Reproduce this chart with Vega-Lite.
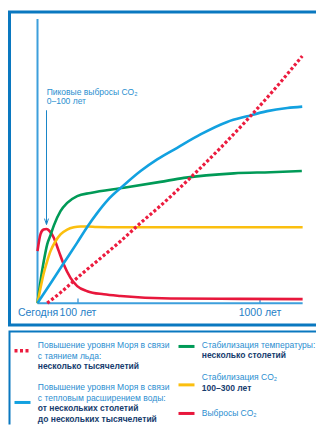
{
  "$schema": "https://vega.github.io/schema/vega-lite/v6.json",
  "padding": {"left": 7.5, "top": 10, "right": 0, "bottom": 0},
  "background": "white",
  "spacing": 3.5,
  "config": {"font": "Liberation Sans"},
  "datasets": {
    "curves": [
      {"series": "Выбросы CO₂", "year": 0, "level": 18.3},
      {"series": "Выбросы CO₂", "year": 7.5, "level": 24.3},
      {"series": "Выбросы CO₂", "year": 15, "level": 25.9},
      {"series": "Выбросы CO₂", "year": 22.5, "level": 26.1},
      {"series": "Выбросы CO₂", "year": 30, "level": 25.4},
      {"series": "Выбросы CO₂", "year": 40.75, "level": 23.0},
      {"series": "Выбросы CO₂", "year": 53.25, "level": 18.3},
      {"series": "Выбросы CO₂", "year": 65.75, "level": 13.6},
      {"series": "Выбросы CO₂", "year": 82.5, "level": 8.9},
      {"series": "Выбросы CO₂", "year": 99.25, "level": 6.0},
      {"series": "Выбросы CO₂", "year": 148, "level": 4.2},
      {"series": "Выбросы CO₂", "year": 230, "level": 3.1},
      {"series": "Выбросы CO₂", "year": 313, "level": 2.5},
      {"series": "Выбросы CO₂", "year": 560, "level": 1.65},
      {"series": "Выбросы CO₂", "year": 906, "level": 1.5},
      {"series": "Выбросы CO₂", "year": 1213, "level": 1.4},
      {"series": "Температура", "year": 0, "level": 0},
      {"series": "Температура", "year": 7.5, "level": 7.75},
      {"series": "Температура", "year": 15.75, "level": 14.8},
      {"series": "Температура", "year": 24.25, "level": 20.7},
      {"series": "Температура", "year": 32.5, "level": 23.9},
      {"series": "Температура", "year": 40.75, "level": 27.3},
      {"series": "Температура", "year": 57.5, "level": 32.4},
      {"series": "Температура", "year": 74.25, "level": 35.3},
      {"series": "Температура", "year": 99.25, "level": 37.7},
      {"series": "Температура", "year": 164, "level": 38.8},
      {"series": "Температура", "year": 329, "level": 40.6},
      {"series": "Температура", "year": 510, "level": 42.7},
      {"series": "Температура", "year": 626, "level": 44.1},
      {"series": "Температура", "year": 873, "level": 45.7},
      {"series": "Температура", "year": 1054, "level": 46.1},
      {"series": "Температура", "year": 1209, "level": 46.5},
      {"series": "CO₂", "year": 0, "level": 0},
      {"series": "CO₂", "year": 7.5, "level": 5.3},
      {"series": "CO₂", "year": 15.75, "level": 10.6},
      {"series": "CO₂", "year": 24.25, "level": 14.8},
      {"series": "CO₂", "year": 32.5, "level": 18.3},
      {"series": "CO₂", "year": 45, "level": 21.8},
      {"series": "CO₂", "year": 57.5, "level": 24.2},
      {"series": "CO₂", "year": 74.25, "level": 25.9},
      {"series": "CO₂", "year": 90.75, "level": 26.7},
      {"series": "CO₂", "year": 115, "level": 27.0},
      {"series": "CO₂", "year": 154, "level": 27.0},
      {"series": "CO₂", "year": 194, "level": 26.8},
      {"series": "CO₂", "year": 313, "level": 26.7},
      {"series": "CO₂", "year": 1213, "level": 26.7},
      {"series": "Тепловое расширение", "year": 0, "level": 0},
      {"series": "Тепловое расширение", "year": 32.5, "level": 6.9},
      {"series": "Тепловое расширение", "year": 65.75, "level": 14.1},
      {"series": "Тепловое расширение", "year": 99.25, "level": 21.3},
      {"series": "Тепловое расширение", "year": 148, "level": 26.8},
      {"series": "Тепловое расширение", "year": 197, "level": 31.7},
      {"series": "Тепловое расширение", "year": 247, "level": 36.1},
      {"series": "Тепловое расширение", "year": 329, "level": 41.5},
      {"series": "Тепловое расширение", "year": 412, "level": 46.5},
      {"series": "Тепловое расширение", "year": 494, "level": 50.6},
      {"series": "Тепловое расширение", "year": 593, "level": 54.7},
      {"series": "Тепловое расширение", "year": 708, "level": 59.4},
      {"series": "Тепловое расширение", "year": 840, "level": 63.8},
      {"series": "Тепловое расширение", "year": 939, "level": 65.8},
      {"series": "Тепловое расширение", "year": 1038, "level": 67.6},
      {"series": "Тепловое расширение", "year": 1137, "level": 68.7},
      {"series": "Тепловое расширение", "year": 1211, "level": 69.2},
      {"series": "Таяние льда", "year": 24.25, "level": 0},
      {"series": "Таяние льда", "year": 57.5, "level": 3.7},
      {"series": "Таяние льда", "year": 114.8, "level": 9.9},
      {"series": "Таяние льда", "year": 213.7, "level": 15.8},
      {"series": "Таяние льда", "year": 312.6, "level": 21.8},
      {"series": "Таяние льда", "year": 411.5, "level": 28.2},
      {"series": "Таяние льда", "year": 510.4, "level": 34.3},
      {"series": "Таяние льда", "year": 675, "level": 45.3},
      {"series": "Таяние льда", "year": 955, "level": 65.8},
      {"series": "Таяние льда", "year": 1104, "level": 77.8},
      {"series": "Таяние льда", "year": 1211, "level": 87.0}
    ],
    "legend": [
      {"col": "left", "row": 1.5, "kind": "symbol", "series": "Таяние льда"},
      {"col": "left", "row": 6.45, "kind": "symbol", "series": "Тепловое расширение"},
      {"col": "right", "row": 1.1, "kind": "symbol", "series": "Температура"},
      {"col": "right", "row": 4.77, "kind": "symbol", "series": "CO₂"},
      {"col": "right", "row": 7.5, "kind": "symbol", "series": "Выбросы CO₂"},
      {"col": "left", "row": 1, "kind": "label", "text": "Повышение уровня Моря в связи"},
      {"col": "left", "row": 2, "kind": "label", "text": "с таянием льда:"},
      {"col": "left", "row": 3, "kind": "value", "text": "несколько тысячелетий"},
      {"col": "left", "row": 5, "kind": "label", "text": "Повышение уровня Моря в связи"},
      {"col": "left", "row": 6, "kind": "label", "text": "с тепловым расширением воды:"},
      {"col": "left", "row": 7, "kind": "value", "text": "от нескольких столетий"},
      {"col": "left", "row": 8, "kind": "value", "text": "до нескольких тысячелетий"},
      {"col": "right", "row": 1, "kind": "label", "text": "Стабилизация температуры:"},
      {"col": "right", "row": 1.95, "kind": "value", "text": "несколько столетий"},
      {"col": "right", "row": 4, "kind": "label", "text": "Стабилизация CO₂"},
      {"col": "right", "row": 5.1, "kind": "value", "text": "100–300 лет"},
      {"col": "right", "row": 7.5, "kind": "label", "text": "Выбросы CO₂"}
    ]
  },
  "vconcat": [
    {
      "width": 306.5,
      "height": 313,
      "view": {"stroke": "#0a78c0", "strokeWidth": 3, "strokeDash": [306.5, 313, 619.5]},
      "encoding": {
        "x": {
          "field": "year", "type": "quantitative",
          "scale": {"domain": [-70, 0, 100, 1000, 1279], "range": [0, 28, 68, 250, 306.5], "nice": false, "zero": false},
          "axis": {
            "orient": "bottom", "offset": -22, "domain": false, "grid": false, "title": null,
            "values": [0, 100, 1000],
            "labelExpr": "datum.value == 0 ? 'Сегодня' : datum.value + ' лет'",
            "tickSize": -5, "tickColor": "#2a8ad0", "tickWidth": 1.2,
            "labelColor": "#1f80c6", "labelFontSize": 10.5, "labelPadding": 9,
            "labelFlush": false, "labelOverlap": false
          }
        },
        "y": {
          "field": "level", "type": "quantitative",
          "scale": {"domain": [-7.7, 102.5], "nice": false, "zero": false},
          "axis": null
        }
      },
      "layer": [
        {
          "data": {"values": [
            {"year": 0, "level": 0, "year2": 1213, "level2": 0},
            {"year": 0, "level": 0, "year2": 0, "level2": 100}
          ]},
          "mark": {"type": "rule", "color": "#3d9fdc", "strokeWidth": 2},
          "encoding": {"x2": {"field": "year2"}, "y2": {"field": "level2"}}
        },
        {
          "data": {"name": "curves"},
          "transform": [{"filter": "datum.series != 'Таяние льда'"}],
          "mark": {"type": "line", "interpolate": "monotone", "strokeWidth": 2.6},
          "encoding": {
            "color": {
              "field": "series", "type": "nominal",
              "scale": {
                "domain": ["Таяние льда", "Тепловое расширение", "Температура", "CO₂", "Выбросы CO₂"],
                "range": ["#ec1c3f", "#12a1e0", "#009a57", "#fbbf0f", "#e8173c"]
              },
              "legend": null
            }
          }
        },
        {
          "data": {"name": "curves"},
          "transform": [{"filter": "datum.series == 'Таяние льда'"}],
          "mark": {"type": "line", "interpolate": "monotone", "strokeWidth": 3.2, "strokeDash": [3, 2.2], "color": "#ec1c3f"},
          "encoding": {}
        },
        {
          "data": {"values": [
            {"text": "Пиковые выбросы CO₂", "year": 23, "level": 73.2},
            {"text": "0–100 лет", "year": 23, "level": 70.1}
          ]},
          "mark": {"type": "text", "align": "left", "baseline": "alphabetic", "fontSize": 8.5, "color": "#2a8fd0"},
          "encoding": {"text": {"field": "text"}}
        },
        {
          "data": {"values": [
            {"year": 22.5, "level": 67.9, "year2": 22.5, "level2": 27.8}
          ]},
          "mark": {"type": "rule", "color": "#1a86c8", "strokeWidth": 1},
          "encoding": {"x2": {"field": "year2"}, "y2": {"field": "level2"}}
        },
        {
          "data": {"values": [{"year": 22.5, "level": 28.7}]},
          "mark": {"type": "point", "shape": "M-0.67,-1L0,1L0.67,-1", "size": 36, "filled": false, "stroke": "#1a86c8", "strokeWidth": 1, "opacity": 1}
        }
      ]
    },
    {
      "width": 306.5,
      "height": 93,
      "view": {"stroke": "#0a78c0", "strokeWidth": 2, "strokeDash": [306.5, 399.5, 93]},
      "data": {"name": "legend"},
      "encoding": {
        "x": {"field": "col", "type": "nominal", "scale": {"type": "point", "domain": ["left", "right"], "range": [5, 169], "padding": 0}, "axis": null},
        "y": {"field": "row", "type": "quantitative", "scale": {"domain": [-0.328, 8.555], "reverse": true, "nice": false, "zero": false}, "axis": null}
      },
      "layer": [
        {
          "transform": [{"filter": "datum.kind == 'symbol' && datum.series != 'Таяние льда'"}],
          "mark": {"type": "rule", "strokeWidth": 3, "x2Offset": 16},
          "encoding": {
            "x2": {"field": "col"},
            "color": {
              "field": "series", "type": "nominal",
              "scale": {
                "domain": ["Таяние льда", "Тепловое расширение", "Температура", "CO₂", "Выбросы CO₂"],
                "range": ["#ec1c3f", "#12a1e0", "#009a57", "#fbbf0f", "#e8173c"]
              },
              "legend": null
            }
          }
        },
        {
          "transform": [{"filter": "datum.kind == 'symbol' && datum.series == 'Таяние льда'"}],
          "mark": {"type": "rule", "strokeWidth": 3.5, "x2Offset": 16, "strokeDash": [3, 2.5], "color": "#ec1c3f"},
          "encoding": {"x2": {"field": "col"}}
        },
        {
          "transform": [{"filter": "datum.kind == 'label'"}],
          "mark": {"type": "text", "align": "left", "baseline": "middle", "dx": 23.3, "fontSize": 8.5, "color": "#2b8ed0"},
          "encoding": {"text": {"field": "text"}}
        },
        {
          "transform": [{"filter": "datum.kind == 'value'"}],
          "mark": {"type": "text", "align": "left", "baseline": "middle", "dx": 23.3, "fontSize": 8.5, "fontWeight": "bold", "color": "#163c6e"},
          "encoding": {"text": {"field": "text"}}
        }
      ]
    }
  ]
}
